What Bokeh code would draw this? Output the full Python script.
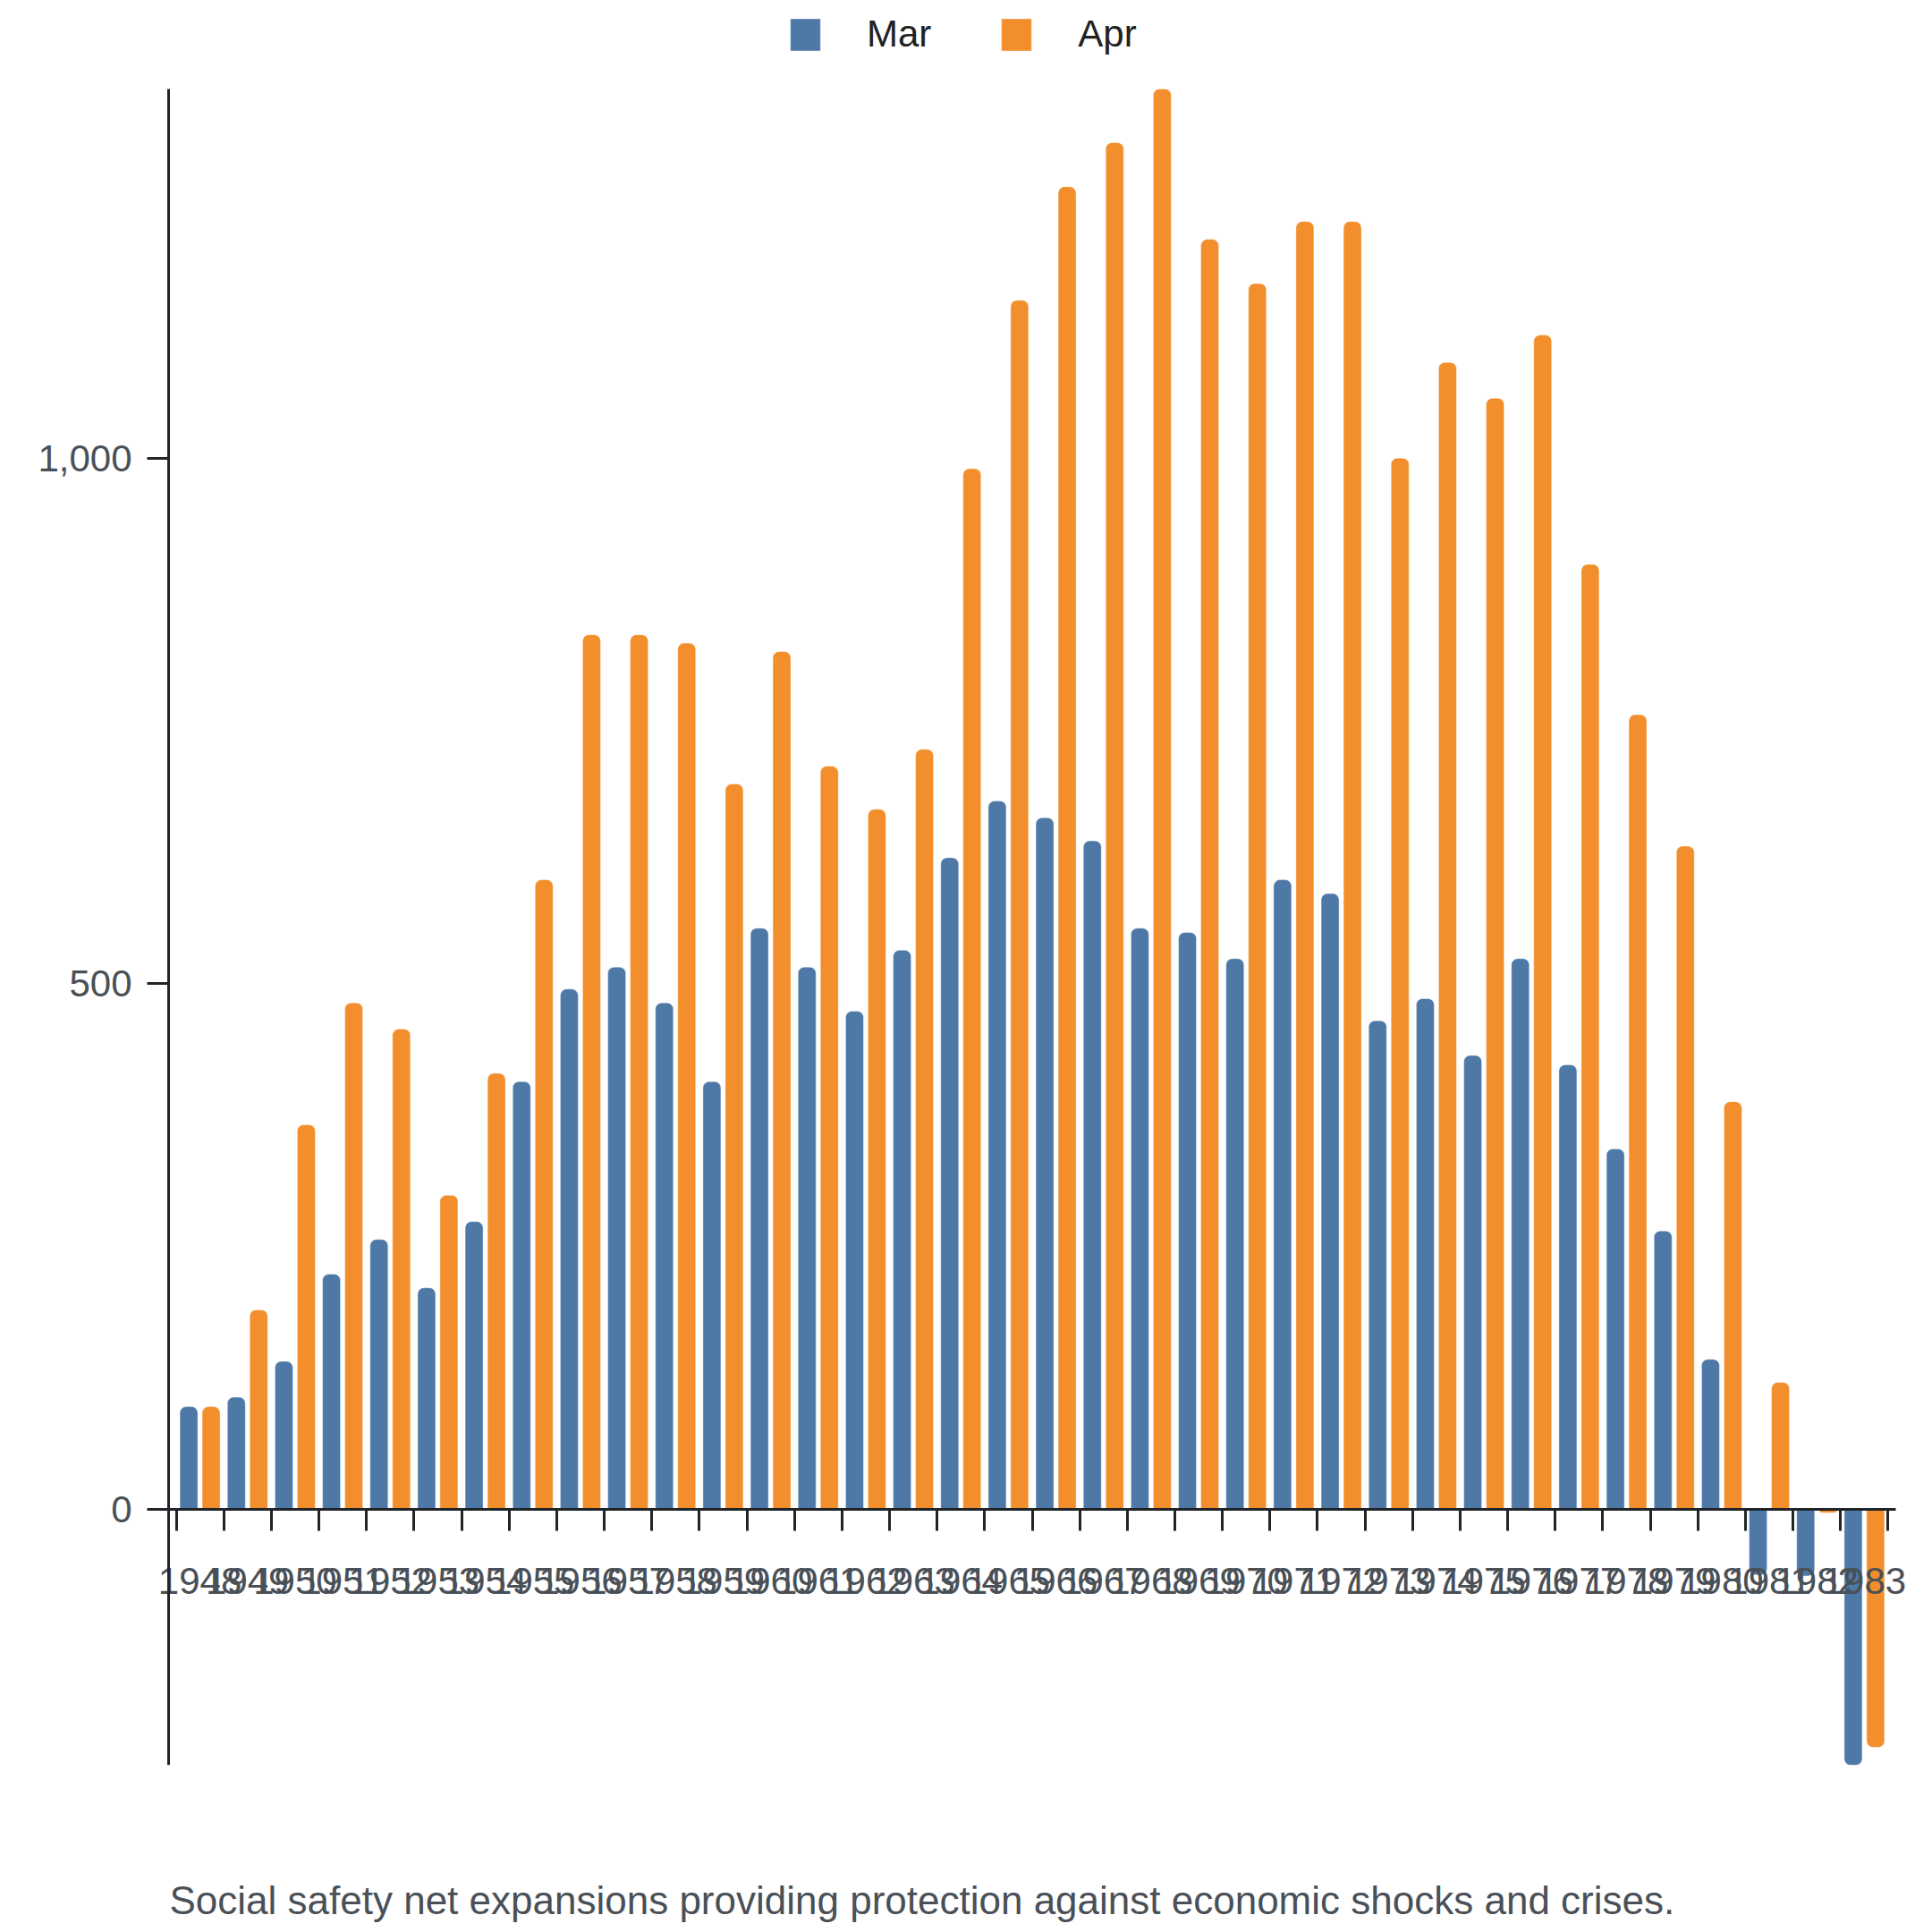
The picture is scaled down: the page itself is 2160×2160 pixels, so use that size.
from bokeh.plotting import figure
from bokeh.models import (ColumnDataSource, CDSView, BooleanFilter, Range1d,
                          FixedTicker, CustomJSTickFormatter,
                          NumeralTickFormatter, Legend, LegendItem, Title,
                          LinearAxis)
from bokeh.transform import dodge
from bokeh.embed import file_html
from bokeh.resources import INLINE

years = list(range(1948, 1984))
mar = [98, 107, 141, 224, 257, 211, 274, 407, 495, 516, 482, 407, 553, 516,
       474, 532, 620, 674, 658, 636, 553, 549, 524, 599, 586, 465, 486, 432,
       524, 423, 343, 265, 143, -62, -63, -243]
apr = [98, 190, 366, 482, 457, 299, 415, 599, 832, 832, 824, 690, 816, 707,
       666, 723, 990, 1150, 1258, 1300, 1351, 1208, 1166, 1225, 1225, 1000,
       1091, 1057, 1117, 899, 756, 631, 388, 121, -3, -226]
y_ticks = [0, 500, 1000]
caption = "Social safety net expansions providing protection against economic shocks and crises."

BLUE = "#4e79a7"
ORANGE = "#f28e2b"
FONT = "Liberation Sans"
AXIS = "#212529"
LABEL = "#495057"

# pixel box of the axes inside a frame that fills the page width,
# so that the tick labels at both ends are not cut off
W = 2152
LEFT, RIGHT, TOP, BOTTOM = 188, 2119, 99, 1973

x0, x1 = years[0] - 0.16, years[-1] + 1.16
ppu = (RIGHT - LEFT) / (x1 - x0)
ymin, ymax = min(mar + apr), max(mar + apr)
upp = (ymax - ymin) / (BOTTOM - TOP)

mid = [y + 0.5 for y in years]
source = ColumnDataSource(data=dict(year=years, mid=mid, mar=mar, apr=apr))

p = figure(frame_width=W, frame_height=BOTTOM,
           output_backend="svg", toolbar_location=None,
           x_range=Range1d(x0 - LEFT / ppu, x1 + (W - RIGHT) / ppu),
           y_range=Range1d(ymin, ymax + TOP * upp),
           x_axis_location=None, y_axis_location=None,
           min_border_left=0, min_border_right=0,
           min_border_top=0, min_border_bottom=10)
p.outline_line_color = None
p.grid.visible = False
p.background_fill_color = "white"

renderers = {}
for name, color, shift in [("mar", BLUE, -0.235), ("apr", ORANGE, 0.235)]:
    pos = CDSView(filter=BooleanFilter([v >= 0 for v in source.data[name]]))
    neg = CDSView(filter=BooleanFilter([v < 0 for v in source.data[name]]))
    r_pos = p.vbar(x=dodge("mid", shift), width=0.376, top=name, bottom=0,
                   source=source, view=pos, fill_color=color,
                   line_color="white", line_alpha=0.4, line_width=1,
                   border_radius=(7, 7, 0, 0))
    p.vbar(x=dodge("mid", shift), width=0.376, top=0, bottom=name,
           source=source, view=neg, fill_color=color,
           line_color="white", line_alpha=0.4, line_width=1,
           border_radius=(0, 0, 7, 7))
    renderers[name] = r_pos

# y axis
yaxis = LinearAxis(fixed_location=x0, bounds=(ymin, ymax))
yaxis.ticker = FixedTicker(ticks=y_ticks)
yaxis.formatter = NumeralTickFormatter(format="0,0")
yaxis.axis_line_width = 3
yaxis.axis_line_color = AXIS
yaxis.major_tick_line_width = 3
yaxis.major_tick_line_color = AXIS
yaxis.major_tick_out = 24
yaxis.major_tick_in = 0
yaxis.minor_tick_line_color = None
yaxis.major_label_standoff = 17
yaxis.major_label_text_font = FONT
yaxis.major_label_text_font_size = "42px"
yaxis.major_label_text_color = LABEL
p.add_layout(yaxis, "left")

# x axis sits on the zero line; ticks at band edges, labels at band centres
xaxis = LinearAxis(fixed_location=0, bounds=(x0, x1))
xaxis.ticker = FixedTicker(ticks=mid, minor_ticks=years + [years[-1] + 1])
xaxis.formatter = CustomJSTickFormatter(code="return String(Math.floor(tick))")
xaxis.axis_line_width = 3
xaxis.axis_line_color = AXIS
xaxis.major_tick_line_color = None
xaxis.major_tick_out = 24
xaxis.major_tick_in = 0
xaxis.minor_tick_line_width = 3
xaxis.minor_tick_line_color = AXIS
xaxis.minor_tick_out = 24
xaxis.minor_tick_in = 0
xaxis.major_label_standoff = 41
xaxis.major_label_text_font = FONT
xaxis.major_label_text_font_size = "42px"
xaxis.major_label_text_color = LABEL
p.add_layout(xaxis, "below")

p.add_layout(Title(text=caption, align="left", offset=LEFT + 1, text_font=FONT,
                   text_font_size="44px", text_font_style="normal",
                   text_color=LABEL, standoff=249), "below")

legend = Legend(items=[LegendItem(label="Mar", renderers=[renderers["mar"]]),
                       LegendItem(label="Apr", renderers=[renderers["apr"]])],
                orientation="horizontal", location=(LEFT + 691, BOTTOM - 62),
                glyph_width=42, glyph_height=45, label_standoff=48,
                spacing=74, padding=0, margin=0,
                label_text_font=FONT, label_text_font_size="42px",
                label_text_color="#222222",
                border_line_color=None, background_fill_alpha=0)
p.add_layout(legend, "center")

open("out.html", "w").write(file_html(p, INLINE))
